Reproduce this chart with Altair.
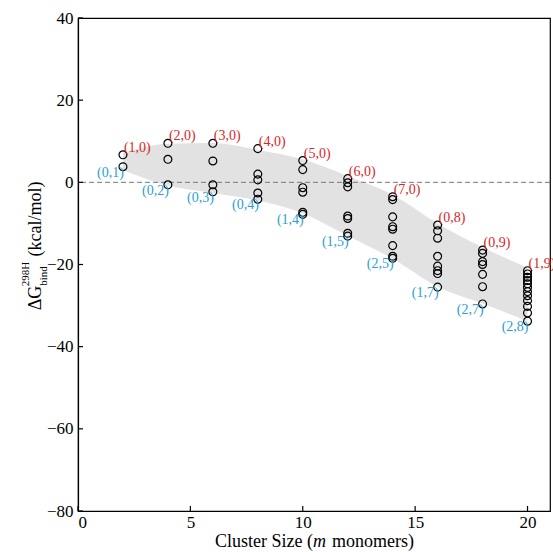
import altair as alt
import pandas as pd

# ---- data ----
cluster_sizes = [2, 4, 6, 8, 10, 12, 14, 16, 18, 20]
dg_m2 = [6.7, 3.8]
dg_m4 = [9.5, 5.6, -0.6]
dg_m6 = [9.5, 5.2, -0.6, -2.3]
dg_m8 = [8.2, 2.0, 0.6, -2.6, -4.1]
dg_m10 = [5.3, 3.1, -1.3, -2.4, -7.3, -7.8]
dg_m12 = [0.9, -0.1, -1.1, -8.2, -8.8, -12.4, -13.1]
dg_m14 = [-3.5, -4.2, -8.4, -10.8, -11.4, -15.4, -18.0, -18.5]
dg_m16 = [-10.4, -11.8, -13.6, -18.0, -20.4, -21.5, -22.2, -25.5]
dg_m18 = [-16.5, -17.3, -19.3, -20.0, -22.4, -25.4, -29.6]
dg_m20 = [-21.5, -22.3, -23.1, -23.9, -24.7, -25.6, -26.6, -27.6, -28.8, -30.2, -31.8, -33.8]
band_upper = [7.2, 9.4, 9.6, 7.9, 5.6, 1.5, -3.0, -10.0, -15.8, -20.8]
band_lower = [3.0, -0.8, -2.6, -4.4, -7.5, -13.0, -18.6, -25.4, -29.5, -33.8]
red_labels = ["(1,0)", "(2,0)", "(3,0)", "(4,0)", "(5,0)", "(6,0)", "(7,0)", "(0,8)", "(0,9)", "(1,9)"]
blue_labels = ["(0,1)", "(0,2)", "(0,3)", "(0,4)", "(1,4)", "(1,5)", "(2,5)", "(1,7)", "(2,7)", "(2,8)"]
x_ticks = [0, 5, 10, 15, 20]
y_ticks = [-80, -60, -40, -20, 0, 20, 40]

groups = [dg_m2, dg_m4, dg_m6, dg_m8, dg_m10, dg_m12, dg_m14, dg_m16, dg_m18, dg_m20]
points = pd.DataFrame(
    [{"m": m, "dg": v} for m, vals in zip(cluster_sizes, groups) for v in vals]
)
band = pd.DataFrame({"m": cluster_sizes, "hi": band_upper, "lo": band_lower})
labels = pd.DataFrame({
    "m": cluster_sizes,
    "hi": [max(g) for g in groups],
    "lo": [min(g) for g in groups],
    "red": red_labels,
    "blue": blue_labels,
})

SERIF = "Liberation Serif"
xs = alt.Scale(domain=[0, 21], nice=False, zero=False)
ys = alt.Scale(domain=[-80, 40], nice=False)

area = alt.Chart(band).mark_area(color="#e2e2e2", interpolate="monotone").encode(
    x=alt.X("m:Q", scale=xs, axis=alt.Axis(values=x_ticks, title=None, labelPadding=3)),
    y=alt.Y("hi:Q", scale=ys, axis=alt.Axis(values=y_ticks, title=None, labelPadding=5)),
    y2="lo:Q",
)

zero_line = alt.Chart(pd.DataFrame({"z": [0]})).mark_rule(
    color="#777777", strokeDash=[5, 3], strokeWidth=1
).encode(y=alt.Y("z:Q", scale=ys))

# inward tick marks (matplotlib style)
xtick_marks = alt.Chart(pd.DataFrame({"t": x_ticks})).mark_rule(
    color="black", strokeWidth=1.2
).encode(x=alt.X("t:Q", scale=xs), y=alt.value(493), y2=alt.value(488))
ytick_marks = alt.Chart(pd.DataFrame({"t": y_ticks})).mark_rule(
    color="black", strokeWidth=1.2
).encode(y=alt.Y("t:Q", scale=ys), x=alt.value(0), x2=alt.value(5))

circles = alt.Chart(points).mark_point(
    shape="circle", filled=False, color="black", size=62, strokeWidth=1.2, opacity=1
).encode(x=alt.X("m:Q", scale=xs), y=alt.Y("dg:Q", scale=ys))

red_text = alt.Chart(labels).mark_text(
    align="left", baseline="middle", dx=1, dy=-7, font=SERIF, fontSize=14, color="#d62728"
).encode(x=alt.X("m:Q", scale=xs), y=alt.Y("hi:Q", scale=ys), text="red:N")

blue_text = alt.Chart(labels).mark_text(
    align="right", baseline="middle", dx=1, dy=6, font=SERIF, fontSize=14, color="#2b9fd3"
).encode(x=alt.X("m:Q", scale=xs), y=alt.Y("lo:Q", scale=ys), text="blue:N")

one = pd.DataFrame({"a": [0]})

def txt(s, x, y, size, angle=0, align="center", style="normal"):
    return alt.Chart(one).mark_text(
        text=s, font=SERIF, fontSize=size, angle=angle, align=align,
        baseline="middle", color="black", fontStyle=style
    ).encode(x=alt.value(x), y=alt.value(y))

titles = [
    txt("ΔG", -42, 280, 18, angle=270),
    txt("298H", -52, 256, 11, angle=270),
    txt("bind", -34, 258, 11, angle=270),
    txt("(kcal/mol)", -42, 201, 18, angle=270),
    txt("Cluster Size (", 235, 524, 18, align="right"),
    txt("m", 235, 524, 18, align="left", style="italic"),
    txt("monomers)", 254, 524, 18, align="left"),
]

chart = alt.layer(
    area, zero_line, xtick_marks, ytick_marks, circles, red_text, blue_text, *titles
).properties(
    width=472, height=493,
    autosize=alt.AutoSizeParams(type="none"),
    padding={"left": 78, "top": 18, "right": 3, "bottom": 41},
    background="white",
).configure_view(stroke="black", strokeWidth=1.2).configure_axis(
    labelFont=SERIF, labelFontSize=17, labelColor="black", ticks=False,
    domainColor="black", grid=False, domainWidth=1.2,
)

chart.save("out.html", embed_options={"renderer": "svg", "actions": False})
